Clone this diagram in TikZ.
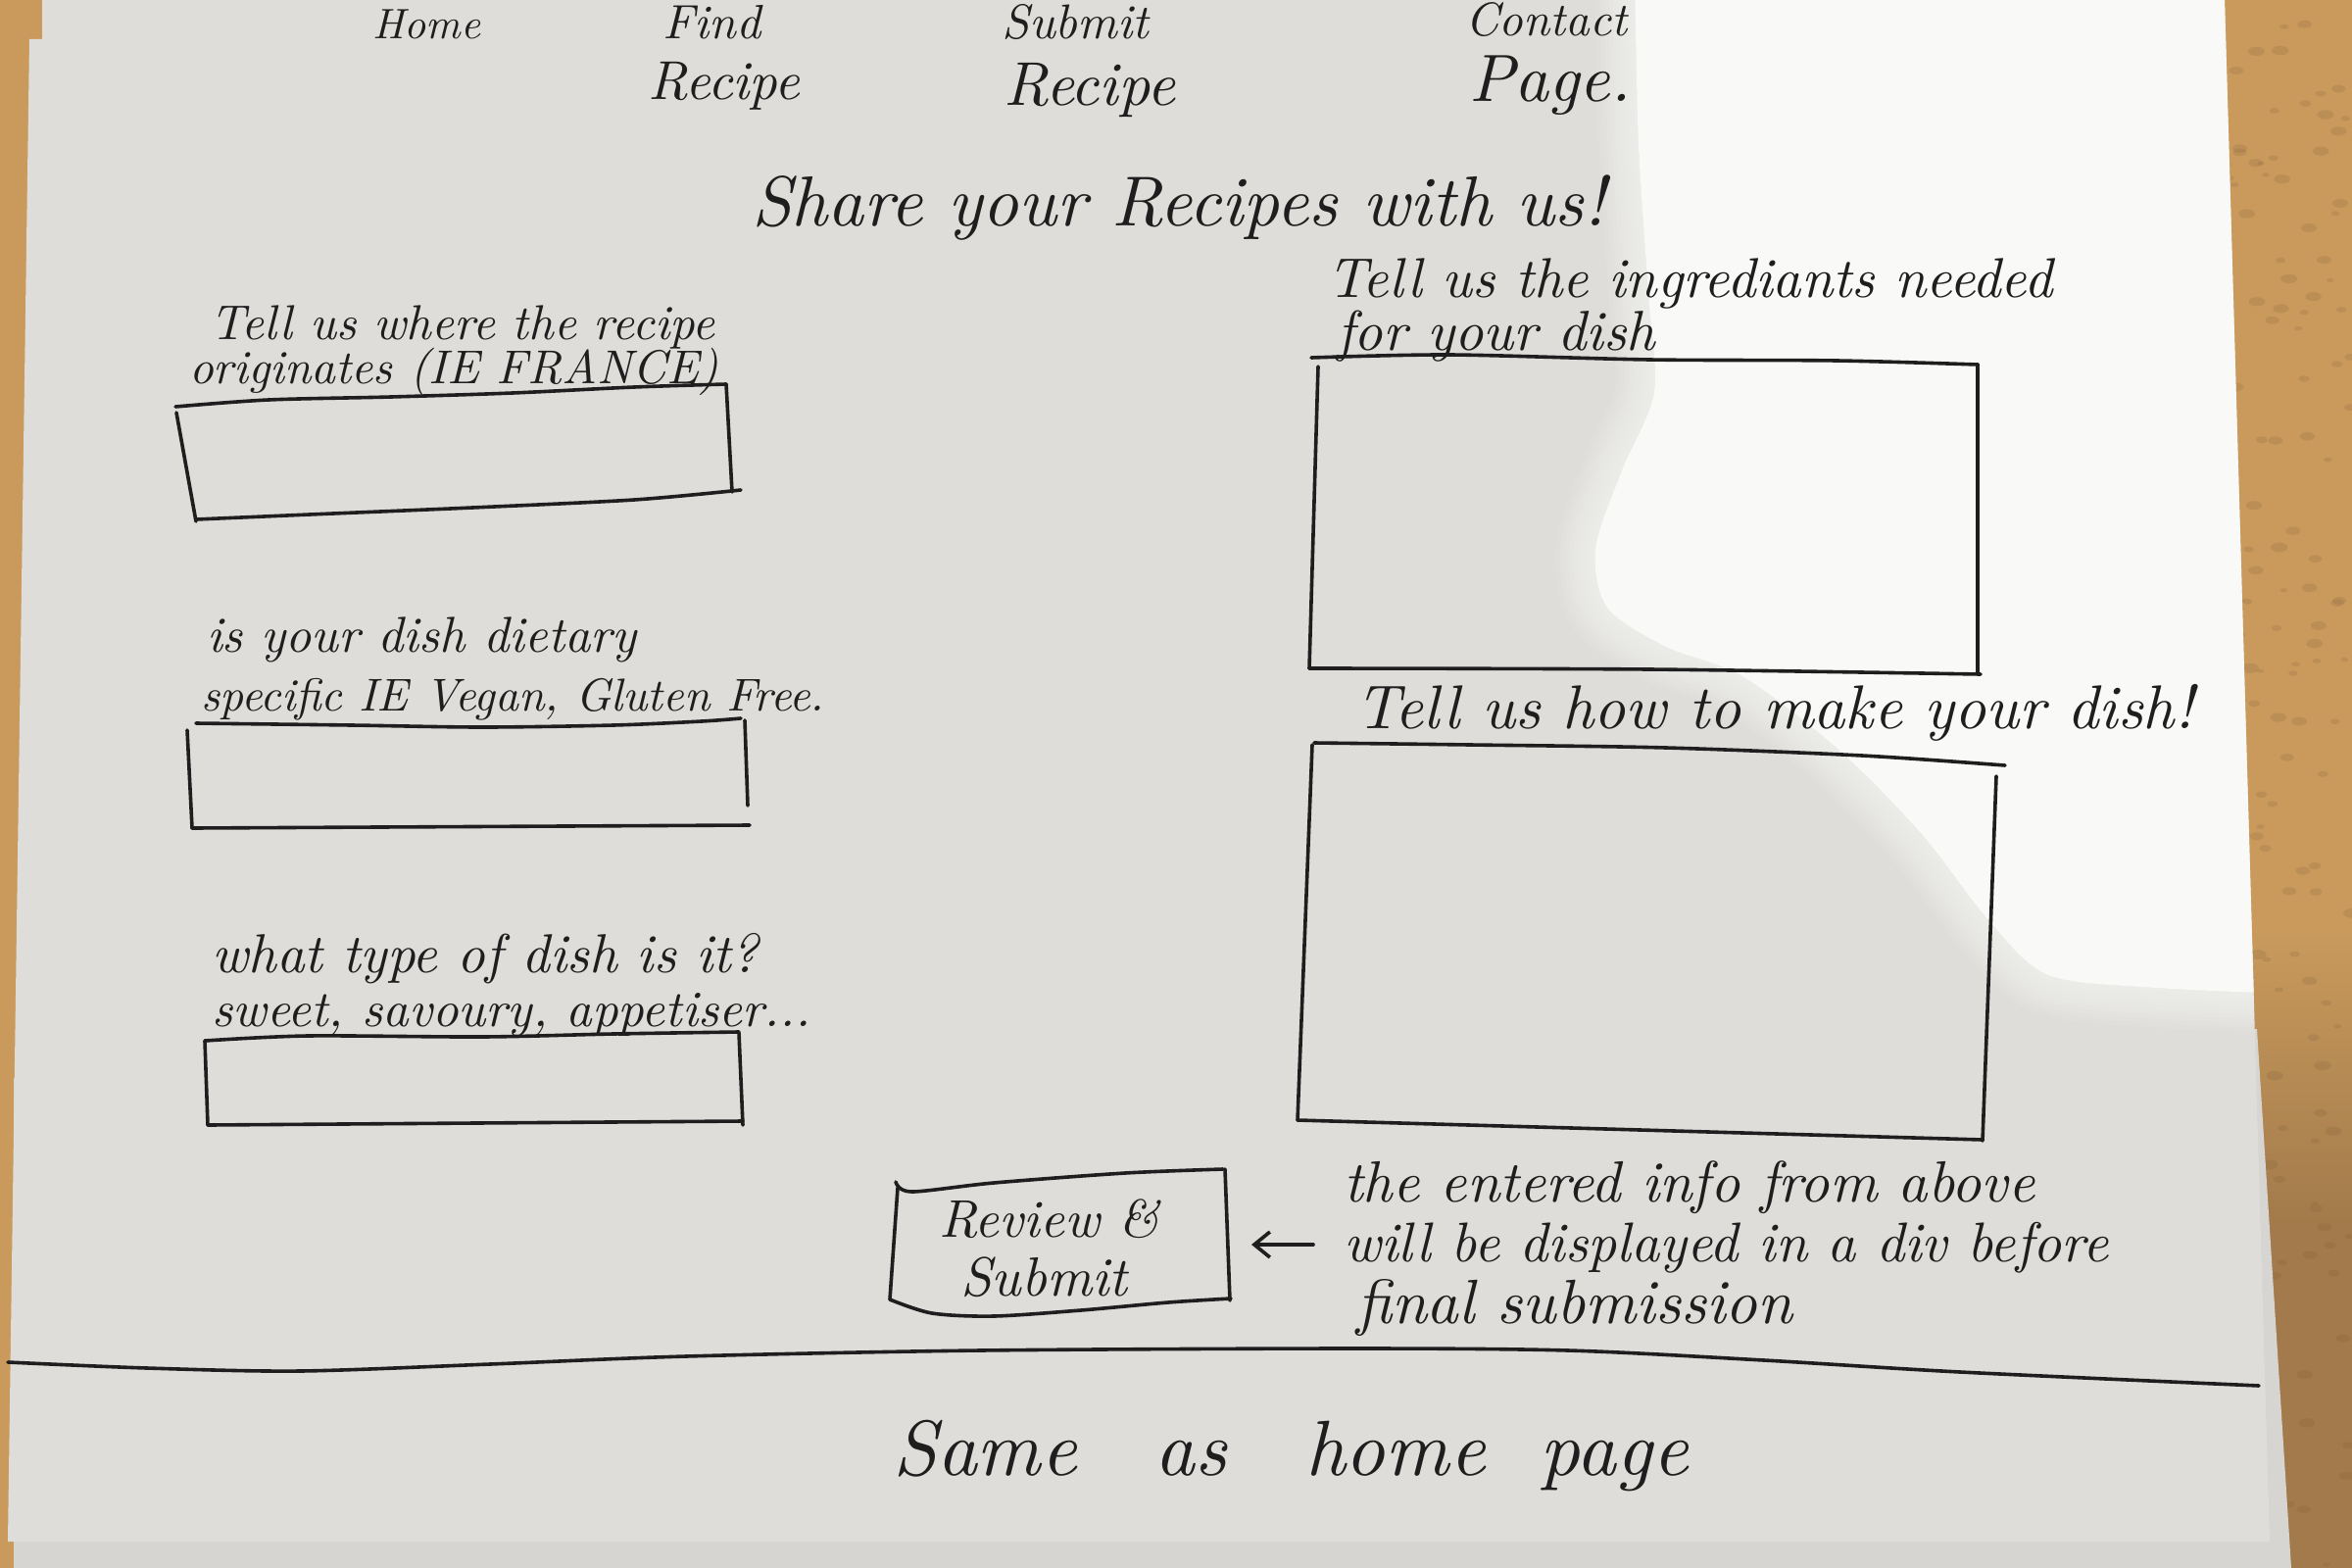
\documentclass[tikz,border=0pt]{standalone}
\usepackage{fontspec}
\usepackage{graphicx}
\usetikzlibrary{arrows.meta}

\definecolor{wood}{HTML}{C99A5C}
\definecolor{wooddark}{HTML}{A27A4B}
\definecolor{paper}{HTML}{DEDDDA}
\definecolor{paperlit}{HTML}{F9F9F7}
\definecolor{undersheet}{HTML}{D6D5D2}
\definecolor{ink}{HTML}{1E1E1E}

% handwritten-looking line of text, scaled to a given width (in pt)
\newcommand{\handw}[2]{\resizebox{#1pt}{!}{\itshape #2}}

\begin{document}
\begin{tikzpicture}[x=1pt,y=-1pt,
  pen/.style={draw=ink,line width=3.6pt,line cap=round,line join=round},
  hand/.style={inner sep=0pt,anchor=base west,text=ink},
  arrowpen/.style={pen,-{Straight Barb[length=16pt,width=26pt]}}]

\useasboundingbox (0,0) rectangle (2400,1600);
\clip (0,0) rectangle (2400,1600);

% ---- desk -------------------------------------------------------------
\fill[wood] (0,0) rectangle (2400,1600);
\shade[top color=wood,bottom color=wooddark] (2200,950) rectangle (2400,1250);
\fill[wooddark] (2200,1250) rectangle (2400,1600);
\pgfmathsetseed{7}
\foreach \i in {1,...,160}{
  \pgfmathsetmacro\xx{2265+rnd*135}
  \pgfmathsetmacro\yy{rnd*1600}
  \pgfmathsetmacro\rr{2+rnd*3}
  \fill[wooddark!75!black,opacity=0.18] (\xx,\yy) ellipse ({1.8*\rr pt} and {\rr pt});
}

% ---- sheets of paper ----------------------------------------------------
\fill[undersheet] (14,1100) -- (2303,1050) -- (2338,1600) -- (14,1600) -- cycle;
\fill[paper] (43,0) -- (43,40) -- (30,40) -- (8,1573) -- (2316,1573) -- (2270,0) -- cycle;

% sunlit patch on the upper right of the sheet, with a soft rim
\begin{scope}
  \clip (43,0) -- (43,40) -- (30,40) -- (8,1573) -- (2316,1573) -- (2270,0) -- cycle;
  \def\litedge{(1668,-20) (1672,150) (1682,300) (1688,400) (1655,480) (1628,560) (1640,620) (1700,660) (1778,690) (1874,763) (1960,850) (2030,940) (2090,995) (2200,1008) (2360,1015)}
  \fill[paperlit] plot[smooth] coordinates {\litedge} -- (2420,1015) -- (2420,-20) -- cycle;
  \foreach \k in {1,...,9}
    \draw[paperlit,line width={9*\k pt},opacity=0.1] plot[smooth] coordinates {\litedge};
\end{scope}

% ---- navigation ---------------------------------------------------------
\node[hand] (navhome)     at (380,40)  {\handw{110}{Home}};
\node[hand] (navfind)     at (676,40)  {\handw{100}{Find}};
\node[hand] (navfindr)    at (661,102) {\handw{155}{Recipe}};
\node[hand] (navsubmit)   at (1022,40) {\handw{150}{Submit}};
\node[hand] (navsubmitr)  at (1024,107){\handw{175}{Recipe}};
\node[hand] (navcontact)  at (1495,37) {\handw{165}{Contact}};
\node[hand] (navcontactp) at (1499,104){\handw{165}{Page.}};

% ---- heading ------------------------------------------------------------
\node[hand] (title) at (767,230) {\handw{871}{Share your Recipes with us!}};

% ---- left column: short inputs -------------------------------------------
\node[hand] (lblorigA) at (214,346) {\handw{515}{Tell us where the recipe}};
\node[hand] (lblorigB) at (193,391) {\handw{540}{originates (IE FRANCE)}};
\draw[pen] plot[smooth] coordinates {(179,415) (274,408) (399,405) (523,401) (647,395) (741,392)};
\draw[pen] (741,392) -- (747,502);
\draw[pen] plot[smooth] coordinates {(200,530) (316,525) (482,518) (647,510) (756,500)};
\draw[pen] (180,421) -- (200,532);

\node[hand] (lbldietA) at (211,665) {\handw{438}{is your dish dietary}};
\node[hand] (lbldietB) at (205,725) {\handw{636}{specific IE Vegan, Gluten Free.}};
\draw[pen] plot[smooth] coordinates {(200,738) (359,740) (492,742) (626,740) (716,736) (756,733)};
\draw[pen] (760,735) -- (763,822);
\draw[pen] (196,845) -- (765,842);
\draw[pen] (191,745) -- (196,845);

\node[hand] (lbltypeA) at (216,992)  {\handw{558}{what type of dish is it?}};
\node[hand] (lbltypeB) at (216,1047) {\handw{611}{sweet, savoury, appetiser...}};
\draw[pen] plot[smooth] coordinates {(209,1062) (314,1057) (492,1058) (626,1055) (754,1053)};
\draw[pen] (754,1054) -- (758,1148);
\draw[pen] (212,1148) -- (758,1144);
\draw[pen] (209,1062) -- (212,1148);

% ---- right column: large text areas ----------------------------------------
\node[hand] (lblingrA) at (1354,303) {\handw{740}{Tell us the ingrediants needed}};
\node[hand] (lblingrB) at (1364,357) {\handw{325}{for your dish}};
\draw[pen] plot[smooth] coordinates {(1338,365) (1479,362) (1683,367) (1874,368) (2018,372)};
\draw[pen] (2018,372) -- (2018,686);
\draw[pen] plot[smooth] coordinates {(1336,682) (1683,683) (2021,688)};
\draw[pen] (1345,374) -- (1336,682);

\node[hand] (lblmethod) at (1383,743) {\handw{855}{Tell us how to make your dish!}};
\draw[pen] plot[smooth] coordinates {(1341,758) (1500,760) (1700,763) (1900,771) (2046,781)};
\draw[pen] (2037,792) -- (2023,1164);
\draw[pen] (1324,1143) -- (2023,1163);
\draw[pen] (1339,760) -- (1324,1143);

% ---- review button and its note -------------------------------------------
\draw[pen] plot[smooth] coordinates {(914,1206) (930,1216) (1014,1207) (1148,1197) (1248,1193)};
\draw[pen] (1250,1193) -- (1255,1327);
\draw[pen] plot[smooth] coordinates {(1256,1325) (1192,1329) (1103,1337) (1014,1343) (951,1340) (908,1326)};
\draw[pen] (908,1326) -- (916,1212);
\node[hand] (btnA) at (958,1262) {\handw{225}{Review \&}};
\node[hand] (btnB) at (980,1322) {\handw{170}{Submit}};
\coordinate (btnedge) at (1255,1270);

\node[hand] (noteA) at (1371,1226) {\handw{705}{the entered info from above}};
\node[hand] (noteB) at (1371,1287) {\handw{780}{will be displayed in a div before}};
\node[hand] (noteC) at (1384,1350) {\handw{445}{final submission}};
\draw[arrowpen,shorten <=31pt,shorten >=22pt] (noteB.west |- btnedge) -- (btnedge);

% ---- footer -------------------------------------------------------------
\draw[pen] plot[smooth] coordinates {(8,1390) (150,1396) (306,1399) (500,1392) (700,1384) (1000,1378) (1378,1376) (1600,1378) (1800,1388) (2000,1400) (2305,1414)};
\node[hand] (footer) at (911,1505) {\handw{811}{Same\hspace{1em}as\hspace{1em}home\hspace{0.7em}page}};

\end{tikzpicture}
\end{document}
